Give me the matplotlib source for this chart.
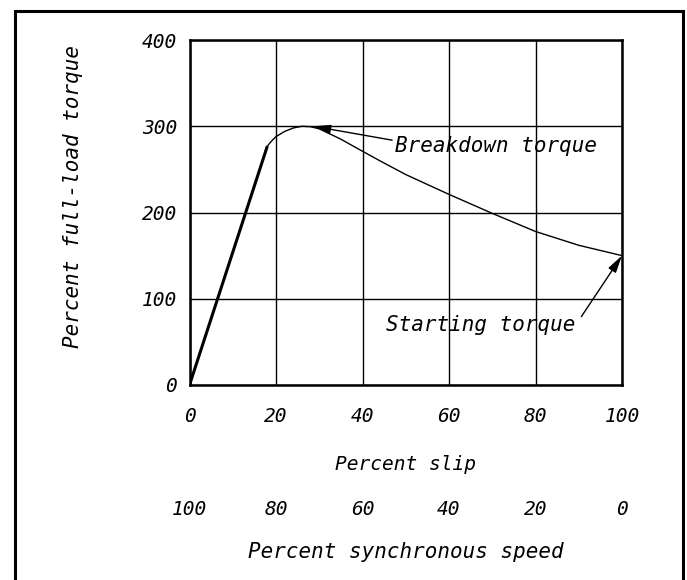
import matplotlib
matplotlib.use("Agg")
import matplotlib.pyplot as plt
from matplotlib.patches import Rectangle

# ---- data ----
slip = [0, 18, 19, 20, 22, 24, 26, 28, 30, 35, 40, 44, 50, 60, 70, 80, 90, 100]
torque = [0, 277, 283, 288, 294, 298, 300, 299.5, 297, 285, 271, 260, 244, 221, 199, 178, 162, 150]
x_ticks = [0, 20, 40, 60, 80, 100]
y_ticks = [0, 100, 200, 300, 400]
speed_labels = ["100", "80", "60", "40", "20", "0"]

FONT = dict(family="DejaVu Sans Mono", style="oblique", size=14)
FONT15 = dict(family="DejaVu Sans Mono", style="oblique", size=15)

fig = plt.figure(figsize=(6.87, 5.8), dpi=100)
ax = fig.add_axes([189.5 / 687, 1 - 385 / 580, 432.5 / 687, 345 / 580])

# outer frame
fig.add_artist(Rectangle((15 / 687, -0.05), (683 - 15) / 687, 1.05 - 11 / 580,
                         transform=fig.transFigure, fill=False, lw=2.2,
                         edgecolor="black", clip_on=False))

ax.plot(slip[:2], torque[:2], color="black", lw=2.2, solid_capstyle="butt")
ax.plot(slip[1:], torque[1:], color="black", lw=1.0)

ax.set_xlim(0, 100)
ax.set_ylim(0, 400)
ax.set_xticks(x_ticks)
ax.set_yticks(y_ticks)
ax.set_xticklabels([str(v) for v in x_ticks], fontdict=FONT)
ax.set_yticklabels([str(v) for v in y_ticks], fontdict=FONT)
ax.tick_params(axis="x", length=0, pad=16)
ax.tick_params(axis="y", length=0, pad=9)
ax.grid(True, color="black", lw=1.0)
for s in ax.spines.values():
    s.set_linewidth(1.8)

ax.set_xlabel("Percent slip", fontdict=FONT, labelpad=21)
ax.set_ylabel("Percent full-load torque", fontdict=FONT15, va="center")
ax.yaxis.set_label_coords((73 - 189.5) / 432.5, (385 - 197) / 345)

sec = ax.secondary_xaxis((385 - 494) / 345,
                         functions=(lambda x: 100 - x, lambda x: 100 - x))
sec.set_xticks([100 - v for v in x_ticks])
sec.set_xticklabels(speed_labels, fontdict=FONT)
sec.tick_params(length=0, pad=4)
sec.spines["bottom"].set_visible(False)
sec.set_xlabel("Percent synchronous speed", fontdict=FONT15, labelpad=17)

arrow = dict(arrowstyle="-|>,head_length=0.7,head_width=0.18",
             color="black", lw=1.0, shrinkA=0, shrinkB=0)
ax.annotate("Breakdown torque", xy=(28.6, 300), xytext=(47.5, 277.5),
            fontsize=15, family="DejaVu Sans Mono", style="oblique",
            ha="left", va="center",
            arrowprops=dict(arrow, relpos=(0, 0.75)))
ax.annotate("Starting torque", xy=(100, 150), xytext=(45.5, 70),
            fontsize=15, family="DejaVu Sans Mono", style="oblique",
            ha="left", va="center",
            arrowprops=dict(arrow, relpos=(1.03, 0.9)))

fig.savefig("out.png", dpi=100)
